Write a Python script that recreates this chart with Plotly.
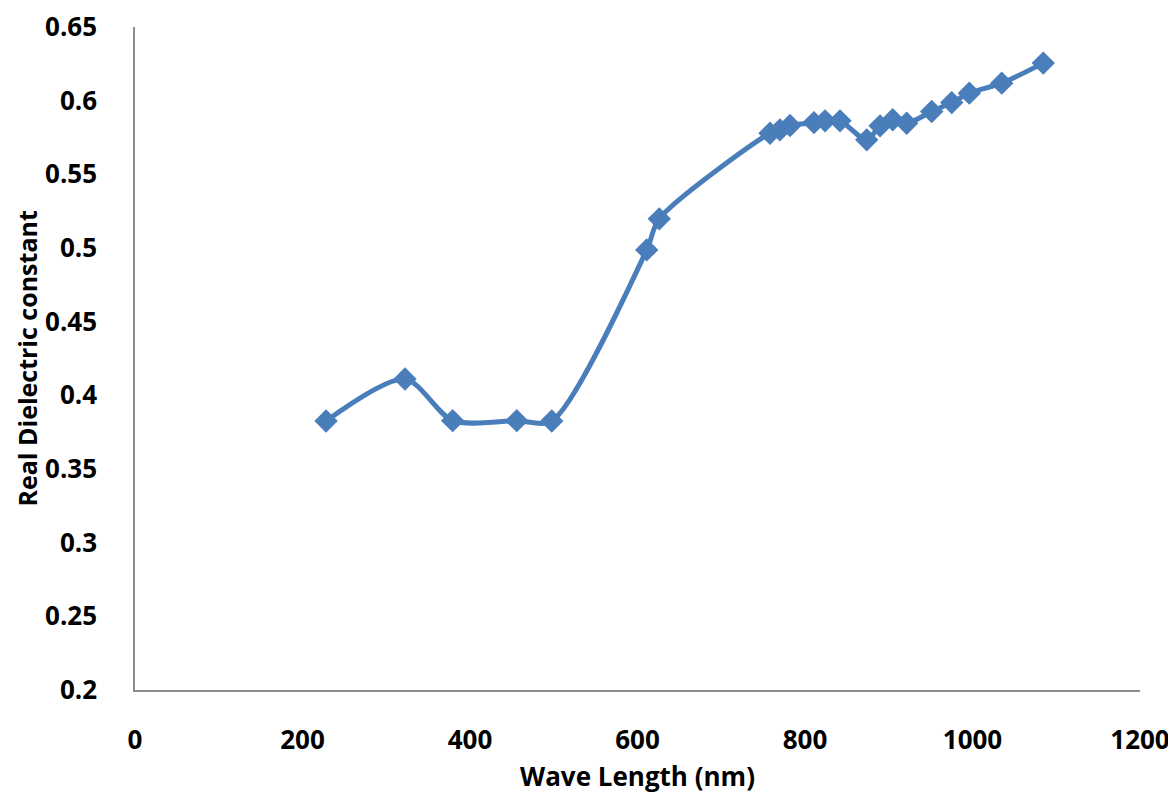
import plotly.graph_objects as go

wavelength = [228.1, 322.4, 379.3, 455.8, 497.6, 611.0, 626.0, 758.2, 770.1, 782.1,
              810.7, 823.9, 841.8, 873.7, 889.6, 904.7, 921.4, 951.3, 975.2, 996.2,
              1034.9, 1084.5]
real_dielectric = [0.3826, 0.4111, 0.3828, 0.3828, 0.3826, 0.4987, 0.5198, 0.5779, 0.5802, 0.5831,
                   0.5851, 0.5863, 0.5863, 0.5734, 0.5829, 0.5870, 0.5847, 0.5926, 0.5987, 0.6051,
                   0.6119, 0.6255]

x_ticks = [0, 200, 400, 600, 800, 1000, 1200]
y_ticks = [0.2, 0.25, 0.3, 0.35, 0.4, 0.45, 0.5, 0.55, 0.6, 0.65]
y_tick_text = ["0.2", "0.25", "0.3", "0.35", "0.4", "0.45", "0.5", "0.55", "0.6", "0.65"]

color = "#4A7EBB"
font_family = "Open Sans, Liberation Sans, sans-serif"

fig = go.Figure()
fig.add_trace(go.Scatter(
    x=wavelength, y=real_dielectric,
    mode="lines+markers",
    line=dict(color=color, width=5, shape="spline", smoothing=0.8),
    marker=dict(symbol="diamond", size=18, color=color),
    showlegend=False,
))

# page body has an 8px default margin; compensate so the chart fills 1176x796
fig.update_layout(
    width=1168, height=788,
    margin=dict(l=127, r=36, t=19, b=106),
    paper_bgcolor="white", plot_bgcolor="white",
    font=dict(family=font_family, color="black"),
)
fig.update_xaxes(
    range=[0, 1200], tickvals=x_ticks, ticktext=[str(v) for v in x_ticks],
    showgrid=False, zeroline=False, automargin=False,
    showline=True, linecolor="#8C8C8C", linewidth=1.5,
    ticks="", ticklabelstandoff=26,
    tickfont=dict(size=26, family=font_family, weight="bold"),
)
fig.update_yaxes(
    range=[0.2, 0.65], tickvals=y_ticks, ticktext=y_tick_text,
    showgrid=False, zeroline=False, automargin=False,
    showline=True, linecolor="#8C8C8C", linewidth=1.5,
    ticks="", ticklabelstandoff=31,
    tickfont=dict(size=26, family=font_family, weight="bold"),
)
fig.add_annotation(
    text="<b>Wave Length (nm)</b>", xref="paper", yref="paper",
    x=0.5, y=0, yshift=-86, xanchor="center", yanchor="middle",
    showarrow=False, font=dict(size=26, family=font_family, color="black"),
)
fig.add_annotation(
    text="<b>Real Dielectric constant</b>", xref="paper", yref="paper",
    x=0, y=0.5, xshift=-109, xanchor="center", yanchor="middle", textangle=-90,
    showarrow=False, font=dict(size=25, family=font_family, color="black"),
)

fig.write_html("out.html")
